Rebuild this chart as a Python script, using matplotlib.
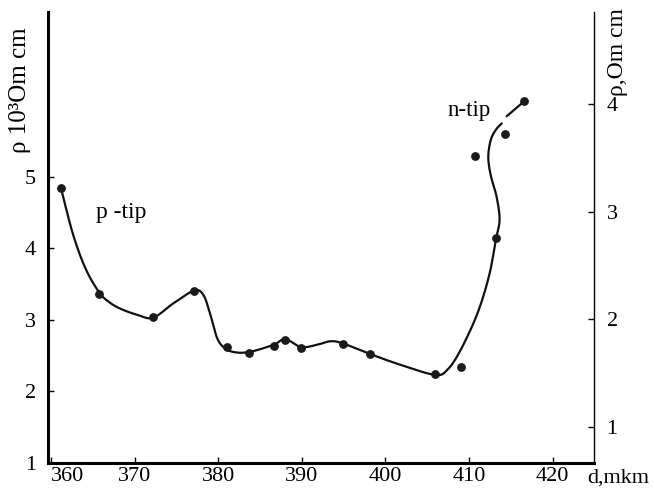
import numpy as np
import matplotlib
matplotlib.use("Agg")
import matplotlib.pyplot as plt

plt.rcParams['font.family'] = ['Liberation Serif', 'DejaVu Serif']

# measured points, d in mkm, rho in 10^3 Om cm (left scale)
d_points = [361.2, 365.7, 372.2, 377.1, 381.0, 383.7, 386.6, 388.0, 389.9,
            394.9, 398.2, 405.9, 409.0, 413.2, 410.7, 414.3, 416.6]
rho_points = [4.84, 3.36, 3.04, 3.41, 2.62, 2.54, 2.64, 2.72, 2.60,
              2.66, 2.52, 2.24, 2.34, 4.15, 5.30, 5.60, 6.06]

# hand-drawn guide curve (two pieces, gap near the top)
curve_d = [361.2, 362.6, 364.1, 365.7, 366.8, 368.2, 370.3, 372.2, 374.6,
           377.1, 378.2, 379.0, 379.8, 380.6, 381.8, 383.7, 386.6, 388.0,
           389.9, 391.8, 393.4, 394.9, 398.2, 401.8, 405.9, 407.4, 409.0,
           411.0, 412.4, 413.2, 413.65, 413.3, 412.6, 412.3, 412.6, 413.2,
           413.9]
curve_rho = [4.83, 4.20, 3.72, 3.39, 3.26, 3.16, 3.07, 3.03, 3.23,
             3.41, 3.35, 3.09, 2.76, 2.62, 2.55, 2.55, 2.65, 2.73,
             2.62, 2.65, 2.70, 2.67, 2.52, 2.37, 2.23, 2.30, 2.58,
             3.09, 3.62, 4.12, 4.40, 4.72, 5.02, 5.28, 5.52, 5.66,
             5.75]
tail_d = [414.5, 416.6]
tail_rho = [5.85, 6.06]

x_ticks = [360, 370, 380, 390, 400, 410, 420]
left_ticks = [1, 2, 3, 4, 5]
right_ticks = [1, 2, 3, 4]


def smooth(xs, ys, n=12):
    # Catmull-Rom through the guide points
    p = np.column_stack([xs, ys])
    p = np.vstack([p[0], p, p[-1]])
    out = []
    for i in range(1, len(p) - 2):
        p0, p1, p2, p3 = p[i - 1], p[i], p[i + 1], p[i + 2]
        t = np.linspace(0, 1, n, endpoint=False)[:, None]
        seg = 0.5 * ((2 * p1) + (-p0 + p2) * t
                     + (2 * p0 - 5 * p1 + 4 * p2 - p3) * t ** 2
                     + (-p0 + 3 * p1 - 3 * p2 + p3) * t ** 3)
        out.append(seg)
    out.append(p[-2][None, :])
    out = np.vstack(out)
    return out[:, 0], out[:, 1]


fig = plt.figure(figsize=(6.54, 4.9), dpi=100)
ax = fig.add_axes([48.3 / 654, 27.3 / 490, (594 - 48.3) / 654, (462.7 - 12) / 490])

cx, cy = smooth(curve_d, curve_rho)
ax.plot(cx, cy, color='#111111', lw=1.6, solid_capstyle='round')
ax.plot(tail_d, tail_rho, color='#111111', lw=1.6, solid_capstyle='round')
ax.plot(d_points, rho_points, 'o', color='#1a1a1a', ms=5.3)

ax.set_xlim(359.65, 424.95)
ax.set_ylim(1, 7.31)
ax.set_xticks(x_ticks)
ax.set_yticks(left_ticks)
ax.tick_params(direction='in', length=4, width=1, labelsize=16)
ax.tick_params(axis='x', pad=3)
ax.tick_params(axis='y', pad=9)
ax.get_xticklabels()[0].set_horizontalalignment('left')

for s in ['top', 'right']:
    ax.spines[s].set_visible(False)
ax.spines['left'].set_linewidth(2.2)
ax.spines['bottom'].set_linewidth(2.2)

ax2 = ax.twinx()
ax2.set_ylim(0.665, 4.86)
ax2.set_yticks(right_ticks)
ax2.tick_params(direction='in', length=4, width=1, labelsize=16, pad=9)
for s in ['top', 'left', 'bottom']:
    ax2.spines[s].set_visible(False)
ax2.spines['right'].set_linewidth(1.0)

ax.text(409.95, 5.86, 'n-tip', fontsize=16.5, ha='center', va='baseline')
ax.text(368.4, 4.42, 'p -tip', fontsize=17, ha='center', va='baseline')

fig.text(20 / 654, (490 - 153) / 490, 'ρ 10³Om cm', rotation=90,
         fontsize=18, ha='center', va='bottom')
fig.text(617 / 654, (490 - 8) / 490, 'ρ,Om cm', rotation=90,
         fontsize=17, ha='center', va='top')
fig.text(587 / 654, 7 / 490, 'd,mkm', fontsize=16, ha='left', va='baseline')

plt.savefig('out.png', dpi=100)
